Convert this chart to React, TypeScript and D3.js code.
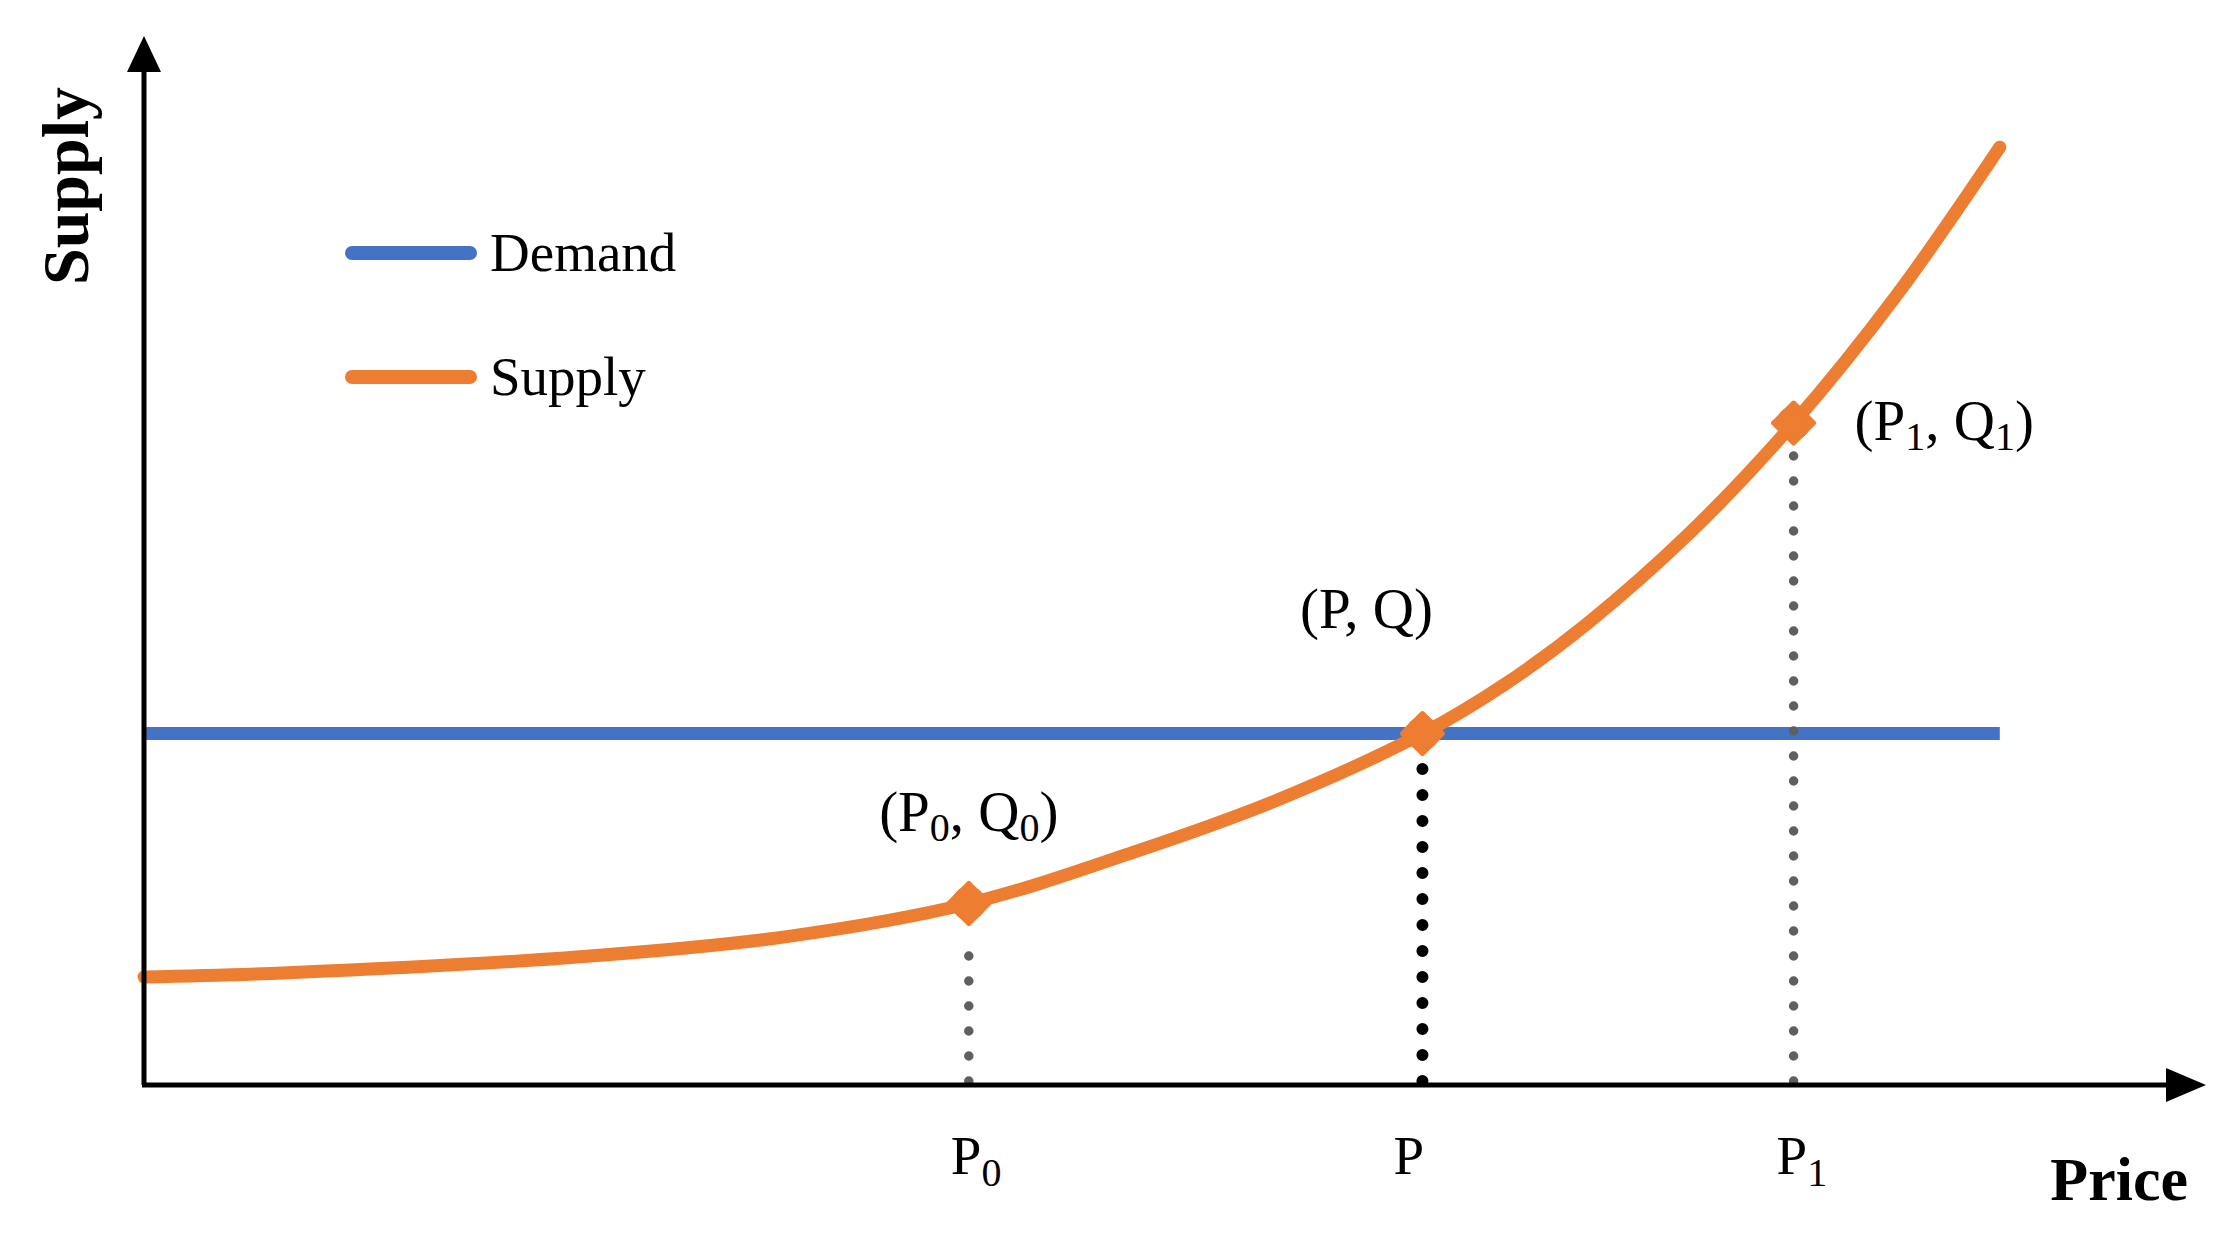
import React from "react";
import * as d3 from "d3";

// ---- data (abstract units: price 0..100, quantity 0..100) ----
const supplyPrice = [0, 7, 21, 31, 40, 48, 55, 62, 66, 70, 75, 80, 85, 90];
const supplyQty = [10.3, 10.7, 12.2, 14.1, 17.3, 22.2, 27.2, 33.5, 38.2, 44.0, 52.7, 63.1, 75.3, 89.4];
const demandPrice = [0, 90];
const demandQty = [33.5, 33.5];
const keyNames = ["0", "", "1"]; // subscripts for P0, P, P1
const keyPrice = [40, 62, 80];
const keyQty = [17.3, 33.5, 63.1];
const legendLabels = ["Demand", "Supply"];
const xAxisTitle = "Price";
const yAxisTitle = "Supply";

const W = 2239;
const H = 1248;
const BLUE = "#4472C4";
const ORANGE = "#ED7D31";
const FONT = "'Liberation Serif', 'DejaVu Serif', serif";

export default function App() {
  const x = d3.scaleLinear().domain([0, 100]).range([144, 2206]);
  const y = d3.scaleLinear().domain([0, 100]).range([1085, 36]);

  const line = d3
    .line<[number, number]>()
    .x((d) => x(d[0]))
    .y((d) => y(d[1]))
    .curve(d3.curveCatmullRom.alpha(0.5));

  const supplyPts = supplyPrice.map((p, i) => [p, supplyQty[i]] as [number, number]);
  const demandPts = demandPrice.map((p, i) => [p, demandQty[i]] as [number, number]);

  const x0 = x(0);
  const y0 = y(0);
  const xTip = x(100);
  const yTip = y(100);

  const labelOffsets = [
    { dx: 0, dy: -73, anchor: "middle" },
    { dx: -56, dy: -106, anchor: "middle" },
    { dx: 61, dy: 17, anchor: "start" },
  ];
  const tickOffsets = [-18, -29, -17];
  const LW = 13;

  return (
    <svg
      width={W}
      height={H}
      style={{ position: "absolute", left: 0, top: 0, background: "#fff" }}
      fontFamily={FONT}
    >
      <rect width={W} height={H} fill="#fff" />
      {/* demand line */}
      <path d={line(demandPts) || ""} fill="none" stroke={BLUE} strokeWidth={LW} />
      {/* drop lines (dots start at the axis) */}
      {keyPrice.map((p, i) => {
        const isMain = keyNames[i] === "";
        return (
          <line
            key={"drop" + i}
            x1={x(p)}
            x2={x(p)}
            y1={y0 - 4}
            y2={y(keyQty[i]) + 28}
            stroke={isMain ? "#000" : "#5f5f5f"}
            strokeWidth={isMain ? 12 : 9.5}
            strokeLinecap="round"
            strokeDasharray={isMain ? "0 26" : "0 25"}
          />
        );
      })}
      {/* supply curve */}
      <path
        d={line(supplyPts) || ""}
        fill="none"
        stroke={ORANGE}
        strokeWidth={LW}
        strokeLinecap="round"
      />
      {/* markers */}
      {keyPrice.map((p, i) => {
        const cx = x(p);
        const cy = y(keyQty[i]);
        const r = 20;
        return (
          <g key={"m" + i}>
            <circle cx={cx} cy={cy} r={17} fill={ORANGE} />
            <path
              d={`M${cx},${cy - r} L${cx + r},${cy} L${cx},${cy + r} L${cx - r},${cy} Z`}
              fill={ORANGE}
              stroke={ORANGE}
              strokeWidth={5}
              strokeLinejoin="round"
            />
          </g>
        );
      })}
      {/* point labels */}
      {keyPrice.map((p, i) => {
        const s = keyNames[i];
        const o = labelOffsets[i];
        return (
          <text
            key={"lab" + i}
            x={x(p) + o.dx}
            y={y(keyQty[i]) + o.dy}
            fontSize={57}
            textAnchor={o.anchor as any}
            fill="#000"
          >
            (P
            {s !== "" && (
              <tspan fontSize={40} dy={10}>
                {s}
              </tspan>
            )}
            {s !== "" ? <tspan dy={-10}>, Q</tspan> : ", Q"}
            {s !== "" && (
              <tspan fontSize={40} dy={10}>
                {s}
              </tspan>
            )}
            {s !== "" ? <tspan dy={-10}>)</tspan> : ")"}
          </text>
        );
      })}
      {/* axes */}
      <line x1={x0} y1={y0} x2={x0} y2={yTip + 30} stroke="#000" strokeWidth={5} />
      <line x1={x0 - 2} y1={y0} x2={xTip - 30} y2={y0} stroke="#000" strokeWidth={5} />
      <path d={`M${x0},${yTip} L${x0 - 17},${yTip + 36} L${x0 + 17},${yTip + 36} Z`} fill="#000" />
      <path d={`M${xTip},${y0} L${xTip - 40},${y0 - 17} L${xTip - 40},${y0 + 17} Z`} fill="#000" />
      {/* tick labels */}
      {keyPrice.map((p, i) => (
        <text key={"t" + i} x={x(p) + tickOffsets[i]} y={1174} fontSize={55} fill="#000">
          P
          {keyNames[i] !== "" && (
            <tspan fontSize={40} dy={12}>
              {keyNames[i]}
            </tspan>
          )}
        </text>
      ))}
      {/* axis titles */}
      <text x={2188} y={1200} fontSize={62} fontWeight="bold" textAnchor="end" fill="#000">
        {xAxisTitle}
      </text>
      <text
        transform={`translate(88, 186) rotate(-90)`}
        fontSize={66}
        fontWeight="bold"
        textAnchor="middle"
        fill="#000"
      >
        {yAxisTitle}
      </text>
      {/* legend */}
      {legendLabels.map((l, i) => (
        <g key={"lg" + i} transform={`translate(0, ${253 + i * 124})`}>
          <line x1={352} x2={470} y1={0} y2={0} stroke={i === 0 ? BLUE : ORANGE} strokeWidth={14} strokeLinecap="round" />
          <text x={490} y={18} fontSize={55} fill="#000">
            {l}
          </text>
        </g>
      ))}
    </svg>
  );
}
